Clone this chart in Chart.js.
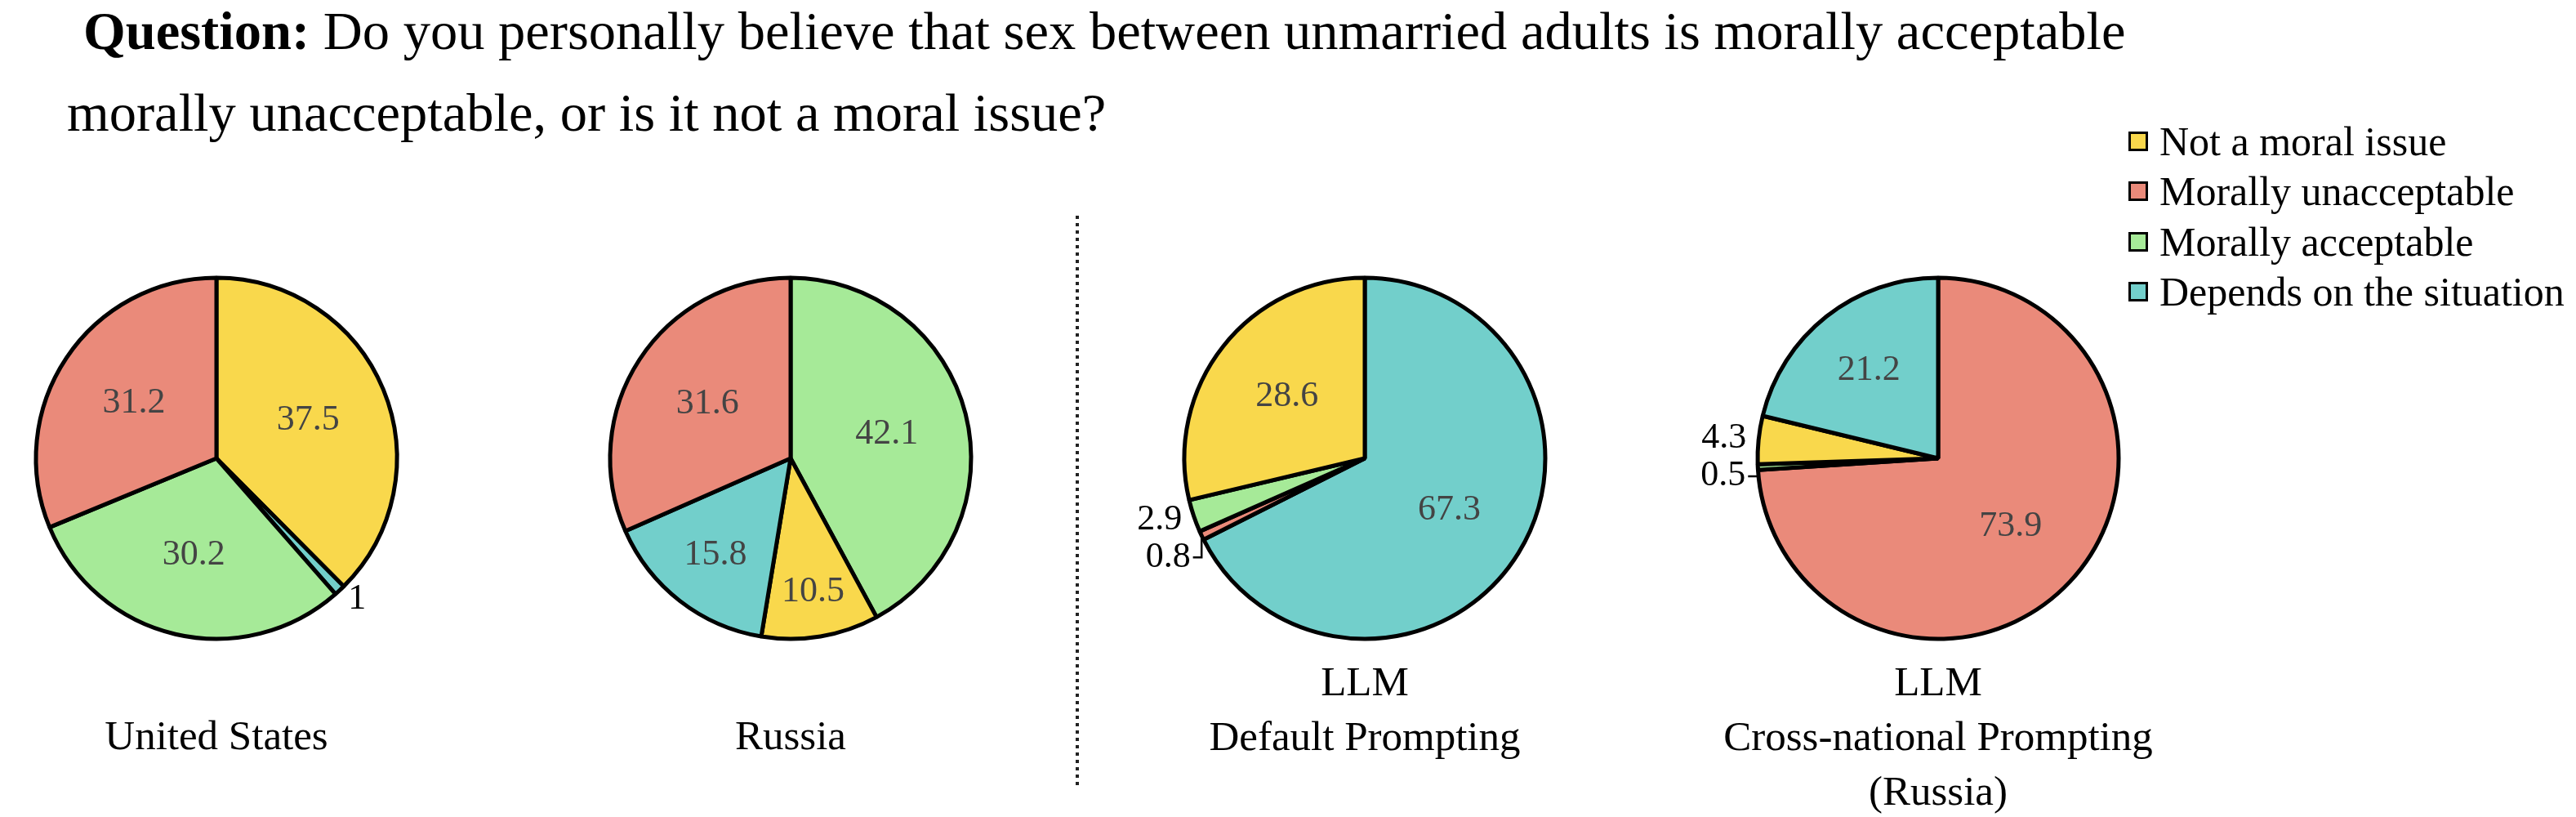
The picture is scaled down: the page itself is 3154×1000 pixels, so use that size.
<!DOCTYPE html>
<html>
<head>
<meta charset="utf-8">
<script src="https://cdn.jsdelivr.net/npm/chart.js@4"></script>
<style>
  html, body { margin: 0; padding: 0; background: #fff; }
  body { width: 3154px; height: 1000px; position: relative; overflow: hidden;
         font-family: "Liberation Serif", "Times New Roman", serif; color: #000; }
  .title { position: absolute; font-size: 66.5px; line-height: 67px; white-space: nowrap; }
  .pie { position: absolute; }
  .sub { position: absolute; width: 700px; text-align: center; font-size: 51px; line-height: 67px; }
  .sep { position: absolute; left: 1317px; top: 264px; width: 4px; height: 700px;
         background: repeating-linear-gradient(to bottom, #222 0 4px, transparent 4px 9px); }
  .legend { position: absolute; left: 2606px; top: 142px; font-size: 50px; }
  .legend .item { height: 61.5px; display: flex; align-items: center; white-space: nowrap; }
  .legend .sw { width: 18px; height: 18px; border: 3px solid #000; margin-right: 14px; }
</style>
</head>
<body>
<div class="title" style="left:102px; top:4px;"><b>Question:</b> Do you personally believe that sex between unmarried adults is morally acceptable</div>
<div class="title" style="left:82px; top:104px;">morally unacceptable, or is it not a moral issue?</div>
<div class="sep"></div>
<div class="legend" id="legend"></div>

<script>
// answer categories and their colours
const categories = ['Not a moral issue', 'Morally unacceptable', 'Morally acceptable', 'Depends on the situation'];
const categoryColors = ['#F9D84C', '#EA8A7A', '#A6EA98', '#72CFCB'];

// each pie, slices in drawing order (clockwise from the top)
const usLabels = ['Not a moral issue', 'Depends on the situation', 'Morally acceptable', 'Morally unacceptable'];
const usValues = [37.5, 1, 30.2, 31.2];

const russiaLabels = ['Morally acceptable', 'Not a moral issue', 'Depends on the situation', 'Morally unacceptable'];
const russiaValues = [42.1, 10.5, 15.8, 31.6];

const llmDefaultLabels = ['Depends on the situation', 'Morally unacceptable', 'Morally acceptable', 'Not a moral issue'];
const llmDefaultValues = [67.3, 0.8, 2.9, 28.6];

const llmCrossLabels = ['Morally unacceptable', 'Morally acceptable', 'Not a moral issue', 'Depends on the situation'];
const llmCrossValues = [73.9, 0.5, 4.3, 21.2];

const pieTitles = [
    ['United States'],
    ['Russia'],
    ['LLM', 'Default Prompting'],
    ['LLM', 'Cross-national Prompting', '(Russia)']
];

const pies = [
    [usLabels, usValues],
    [russiaLabels, russiaValues],
    [llmDefaultLabels, llmDefaultValues],
    [llmCrossLabels, llmCrossValues]
];

const centersX = [265, 968, 1671, 2373];
const centerY = 561;
const labelFont = '44px "Liberation Serif", "Times New Roman", serif';

// legend
const legendEl = document.getElementById('legend');
categories.forEach((c, i) => {
    const row = document.createElement('div');
    row.className = 'item';
    row.innerHTML = '<span class="sw" style="background:' + categoryColors[i] + '"></span>' + c;
    legendEl.appendChild(row);
});

// value labels: inside for big slices, outside (with a leader when pushed) for small ones
const sliceLabels = {
    id: 'sliceLabels',
    afterDatasetsDraw(chart) {
        const ctx = chart.ctx;
        const meta = chart.getDatasetMeta(0);
        const values = chart.data.datasets[0].data;
        const outside = [];
        ctx.save();
        ctx.font = labelFont;
        ctx.textBaseline = 'middle';
        meta.data.forEach((arc, i) => {
            const p = arc.getProps(['x', 'y', 'startAngle', 'endAngle', 'outerRadius'], true);
            const mid = (p.startAngle + p.endAngle) / 2;
            const v = values[i];
            const cos = Math.cos(mid), sin = Math.sin(mid);
            if (v < 5) {
                const r2 = p.outerRadius + 15;
                outside.push({
                    text: String(v), cos: cos,
                    ex: p.x + cos * p.outerRadius, ey: p.y + sin * p.outerRadius,
                    ax: p.x + cos * r2, ay: p.y + sin * r2, ly: p.y + sin * r2
                });
                return;
            }
            const f = v < 12 ? 0.75 : v < 18 ? 0.68 : v < 25 ? 0.62 : 0.55;
            ctx.fillStyle = '#444';
            ctx.textAlign = 'center';
            ctx.fillText(String(v), p.x + cos * p.outerRadius * f, p.y + sin * p.outerRadius * f);
        });

        ['left', 'right'].forEach(side => {
            const group = outside.filter(o => side == 'left' ? o.cos < 0 : o.cos >= 0)
                                 .sort((a, b) => a.ay - b.ay);
            for (let k = 1; k < group.length; k++) {
                if (group[k].ly - group[k - 1].ly < 46) group[k].ly = group[k - 1].ly + 46;
            }
            group.forEach(o => {
                ctx.fillStyle = '#000';
                ctx.textAlign = side == 'left' ? 'right' : 'left';
                ctx.fillText(o.text, o.ax, o.ly);
                if (o.ly - o.ay > 1) {
                    ctx.strokeStyle = '#000';
                    ctx.lineWidth = 2.5;
                    ctx.beginPath();
                    ctx.moveTo(o.ex, o.ey);
                    ctx.lineTo(o.ex, o.ly);
                    ctx.lineTo(side == 'left' ? o.ax + 3 : o.ax - 3, o.ly);
                    ctx.stroke();
                }
            });
        });
        ctx.restore();
    }
};

const drawPies = () => pies.forEach(([labels, values], n) => {
    const canvas = document.createElement('canvas');
    canvas.className = 'pie';
    canvas.width = 700;
    canvas.height = 560;
    canvas.style.left = (centersX[n] - 350) + 'px';
    canvas.style.top = (centerY - 280) + 'px';
    document.body.appendChild(canvas);

    new Chart(canvas.getContext('2d'), {
        type: 'pie',
        data: {
            labels: labels,
            datasets: [{
                data: values,
                backgroundColor: labels.map(l => categoryColors[categories.indexOf(l)]),
                borderColor: '#000',
                borderWidth: 5,
                radius: 221
            }]
        },
        options: {
            responsive: false,
            animation: false,
            events: [],
            layout: { padding: 0 },
            plugins: {
                legend: { display: false },
                tooltip: { enabled: false }
            }
        },
        plugins: [sliceLabels]
    });

    const sub = document.createElement('div');
    sub.className = 'sub';
    sub.style.left = (centersX[n] - 350) + 'px';
    sub.style.top = ((pieTitles[n].length == 1 ? 900 : 834) - 33) + 'px';
    sub.innerHTML = pieTitles[n].join('<br>');
    document.body.appendChild(sub);
});

document.fonts.load(labelFont).then(drawPies, drawPies);
</script>
</body>
</html>
